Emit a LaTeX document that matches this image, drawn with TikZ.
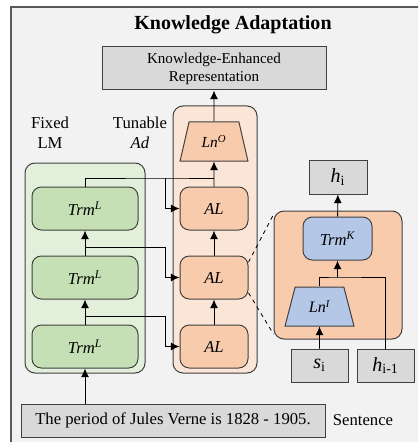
\documentclass[tikz,border=0pt]{standalone}
\usepackage{fontspec}
\setmainfont{Liberation Serif}
\usetikzlibrary{positioning,arrows.meta,shapes.geometric,calc}
\definecolor{framegray}{HTML}{F2F2F2}
\definecolor{framedge}{HTML}{595959}
\definecolor{edgegray}{HTML}{404040}
\definecolor{boxgray}{HTML}{D9D9D9}
\definecolor{lmgreen}{HTML}{E2EFDA}
\definecolor{trmgreen}{HTML}{C5E0B4}
\definecolor{adorange}{HTML}{FBE5D6}
\definecolor{alorange}{HTML}{F8CBAD}
\definecolor{knblue}{HTML}{B4C7E7}
\tikzset{
	greybox/.style={draw=edgegray,line width=0.75pt,fill=boxgray,inner sep=0pt,text centered},
	trmbox/.style={draw=edgegray,line width=0.75pt,fill=trmgreen,rounded corners=7pt,minimum width=79.5pt,minimum height=32.25pt,font=\fontsize{12.5}{15}\selectfont\itshape},
	albox/.style={trmbox,fill=alorange,minimum width=51pt},
	lnbox/.style={trapezium,trapezium stretches=true,trapezium left angle=71,trapezium right angle=71,draw=edgegray,line width=0.75pt,minimum height=29.25pt,inner sep=0pt},
	myarrow/.style={-{Latex[length=6.5pt,width=6pt]},line width=0.7pt},
	myline/.style={line width=0.7pt}
}
\begin{document}
\begin{tikzpicture}[x=0.75pt,y=-0.75pt]
		\useasboundingbox (0,0) rectangle (418,442);
		\clip (0,0) rectangle (418,442);
		\draw[draw=framedge,fill=framegray,line width=1.1pt] (11,7) rectangle (440,460);
		% containers
		\draw[draw=edgegray,line width=0.75pt,fill=lmgreen,rounded corners=7.5pt] (25,163) rectangle (145,373);
		\draw[draw=edgegray,line width=0.75pt,fill=adorange,rounded corners=7.5pt] (173,106) rectangle (257,373);
		\node[font=\fontsize{15}{18}\selectfont\bfseries](title) at (233,25){Knowledge Adaptation};
		\node[greybox,minimum width=168pt,minimum height=32.25pt,align=center,font=\fontsize{11.3}{13.5}\selectfont](ker) at (214,68.5){Knowledge-Enhanced\\Representation};
		\node[align=center,font=\fontsize{12.5}{15}\selectfont](fixed) at (50,133){Fixed\\LM};
		\node[align=center,font=\fontsize{12.5}{15}\selectfont](tunable) at (140,133){Tunable\\\textit{Ad}};
		% fixed LM
		\node[trmbox](trm1) at (85,346.5){Trm\textsuperscript{L}};
		\node[trmbox](trm2) at (85,277.5){Trm\textsuperscript{L}};
		\node[trmbox](trm3) at (85,208.5){Trm\textsuperscript{L}};
		% tunable adapters
		\node[albox](al1) at (214,346.5){AL};
		\node[albox](al2) at (214,277.5){AL};
		\node[albox](al3) at (214,208.5){AL};
		\node[lnbox,fill=alorange,minimum width=51pt,font=\fontsize{11.5}{14}\selectfont\itshape](lno) at (214,141.5){Ln\textsuperscript{O}};
		\node[greybox,minimum width=228pt,minimum height=24.75pt,font=\fontsize{12.5}{15}\selectfont](sent) at (173,420.5){The period of Jules Verne is 1828 - 1905.};
		\node[font=\fontsize{12.5}{15}\selectfont](sentlbl) at (363,420){Sentence};
		\draw[myarrow] (sent.north -| trm1.south) -- (trm1.south);
		\draw[myarrow] (trm1) -- (trm2);
		\draw[myarrow] (trm2) -- (trm3);
		\draw[myarrow] (al1) -- (al2);
		\draw[myarrow] (al2) -- (al3);
		\draw[myarrow] (al3) -- (lno);
		\draw[myarrow] (lno) -- (ker);
		\coordinate (tap1) at (165,316);
		\coordinate (tap2) at (165,247);
		\coordinate (tap3) at (165,178);
		\draw[myarrow] (trm1.north) |- (tap1) |- (al1.west);
		\draw[myarrow] (trm2.north) |- (tap2) |- (al2.west);
		\draw[myarrow] (tap3) |- (al3.west);
		\draw[myline] (trm3.north) |- (tap3) -- (tap3 -| al3.north);
		% adapter layer detail
		\node[draw=edgegray,line width=0.75pt,fill=alorange,rounded corners=7.5pt,minimum width=96pt,minimum height=96pt](detail) at (338,275){};
		\draw[dashed,line width=0.6pt] ([yshift=-5pt]al2.north east) -- ([yshift=-3pt]detail.north west);
		\draw[dashed,line width=0.6pt] ([yshift=5pt]al2.south east) -- ([yshift=4pt]detail.south west);
		\node[greybox,minimum width=43.5pt,minimum height=25.5pt,font=\fontsize{15}{18}\selectfont](hi) at (338,177){\textit{h}\textsubscript{i}};
		\node[trmbox,fill=knblue,minimum width=51.75pt](trmk) at (337.5,238.5){Trm\textsuperscript{K}};
		\node[lnbox,fill=knblue,minimum width=51.75pt,font=\fontsize{12}{14}\selectfont\itshape](lni) at (319.5,306.5){Ln\textsuperscript{I}};
		\node[greybox,minimum width=42.75pt,minimum height=24.75pt,font=\fontsize{15}{18}\selectfont](si) at (319.5,365.5){\textit{s}\textsubscript{i}};
		\node[greybox,minimum width=42.75pt,minimum height=24.75pt,font=\fontsize{15}{18}\selectfont](hprev) at (385.5,365.5){\textit{h}\textsubscript{i-1}};
		\coordinate (merge) at (337.5,277);
		\draw[myarrow] (trmk) -- (hi);
		\draw[myarrow] (si) -- (lni);
		\draw[myline] (lni.north) |- (merge) -| (hprev.north);
		\draw[myarrow] (merge) -- (trmk.south);
	\end{tikzpicture}
\end{document}
